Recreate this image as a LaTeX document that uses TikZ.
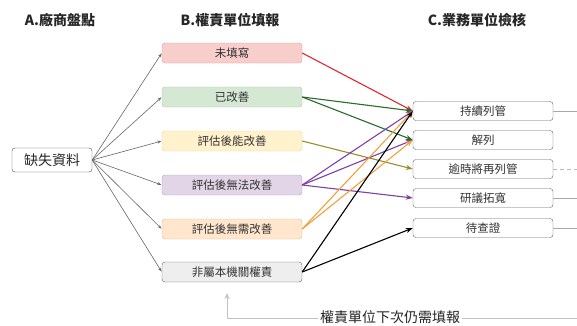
\documentclass[tikz,border=0pt]{standalone}
\usepackage{fontspec}
\setmainfont{Noto Sans CJK TC}
\usetikzlibrary{arrows.meta}
\definecolor{pinkf}{HTML}{F8CECC}\definecolor{pinkd}{HTML}{E09A98}
\definecolor{greenf}{HTML}{D5E8D4}\definecolor{greend}{HTML}{A8CCA4}
\definecolor{yellf}{HTML}{FFF2CC}\definecolor{yelld}{HTML}{E6D49C}
\definecolor{purf}{HTML}{E1D5E7}\definecolor{purd}{HTML}{B7A2C6}
\definecolor{orf}{HTML}{FFE6CC}\definecolor{ord}{HTML}{E8B88A}
\definecolor{grayf}{HTML}{EEEEEE}\definecolor{grayd}{HTML}{666666}
\definecolor{cred}{HTML}{E0282E}\definecolor{cgreen}{HTML}{2B6A2B}
\definecolor{colive}{HTML}{9C8C2A}\definecolor{cpurple}{HTML}{7E3FA6}
\definecolor{corange}{HTML}{F2A03A}\definecolor{lgray}{HTML}{A8A8A8}
\tikzset{
  title/.style={font=\fontsize{14}{16}\selectfont\bfseries, text=black!85},
  bbox/.style={draw, rounded corners=3pt, minimum width=140pt, minimum height=20pt, inner sep=0pt, font=\fontsize{11.5}{13}\selectfont, text=black!80},
  cbox/.style={bbox, fill=white, draw=grayd, minimum height=19pt},
  srcline/.style={draw=black!60, line width=0.6pt, -{Stealth[length=4pt,width=3pt]}, shorten >=0.5pt},
  flow/.style={line width=1.1pt, -{Stealth[length=7pt,width=5pt]}},
  outline/.style={draw=lgray, line width=0.8pt}
}
\begin{document}
\begin{tikzpicture}[x=1pt,y=-1pt]
\useasboundingbox (0,0) rectangle (577,325);
\node[title] (ta) at (60,20) {A.廠商盤點};
\node[title] (tb) at (230,20) {B.權責單位填報};
\node[title] (tc) at (477,20) {C.業務單位檢核};
\node[draw=black!70, rounded corners=3pt, minimum width=80pt, minimum height=24pt, inner sep=0pt, font=\fontsize{14}{16}\selectfont, text=black!85] (src) at (52,160) {缺失資料};
\node[bbox, fill=pinkf, draw=pinkd] (b1) at (232,53) {未填寫};
\node[bbox, fill=greenf, draw=greend] (b2) at (232,97) {已改善};
\node[bbox, fill=yellf, draw=yelld] (b3) at (232,141) {評估後能改善};
\node[bbox, fill=purf, draw=purd] (b4) at (232,185) {評估後無法改善};
\node[bbox, fill=orf, draw=ord] (b5) at (232,229) {評估後無需改善};
\node[bbox, fill=grayf, draw=grayd] (b6) at (232,272) {非屬本機關權責};
\node[cbox] (c1) at (483,111) {持續列管};
\node[cbox] (c2) at (483,140) {解列};
\node[cbox] (c3) at (483,169) {逾時將再列管};
\node[cbox] (c4) at (483,198) {研議拓寬};
\node[cbox] (c5) at (483,228) {待查證};
\foreach \b in {b1,b2,b3,b4,b5,b6}{\draw[srcline] (src.east) -- (\b.west);}
\draw[flow, cred] (b1.east) -- (c1.west);
\draw[flow, cgreen] (b2.east) -- (c1.west);
\draw[flow, cgreen] (b2.east) -- (c2.west);
\draw[flow, colive] (b3.east) -- (c3.west);
\draw[flow, cpurple] (b4.east) -- (c1.west);
\draw[flow, cpurple] (b4.east) -- (c2.west);
\draw[flow, cpurple] (b4.east) -- (c4.west);
\draw[flow, corange] (b5.east) -- (c1.west);
\draw[flow, corange] (b5.east) -- (c2.west);
\draw[flow, black] (b6.east) -- (c1.west);
\draw[flow, black] (b6.east) -- (c5.west);
\coordinate (e1) at (577,111);
\coordinate (e3) at (577,169);
\coordinate (e4) at (577,198);
\coordinate (e5) at (577,228);
\draw[outline] (c1.east) -- (e1);
\draw[outline, dashed, dash pattern=on 4pt off 3pt, draw=lgray!80] (c3.east) -- (e3);
\draw[outline] (c4.east) -- (e4);
\draw[outline] (c5.east) -- (e5);
\coordinate (r0) at (577,318);
\coordinate (r1) at (227,318);
\coordinate (r2) at (227,293);
\draw[outline, -{Stealth[length=6pt,width=5pt]}, draw=lgray!70] (r0) -- (r1) -- (r2);
\node[fill=white, inner sep=2pt, font=\fontsize{14}{16}\selectfont, text=black!85] (back) at (390,317) {權責單位下次仍需填報};
\end{tikzpicture}
\end{document}
